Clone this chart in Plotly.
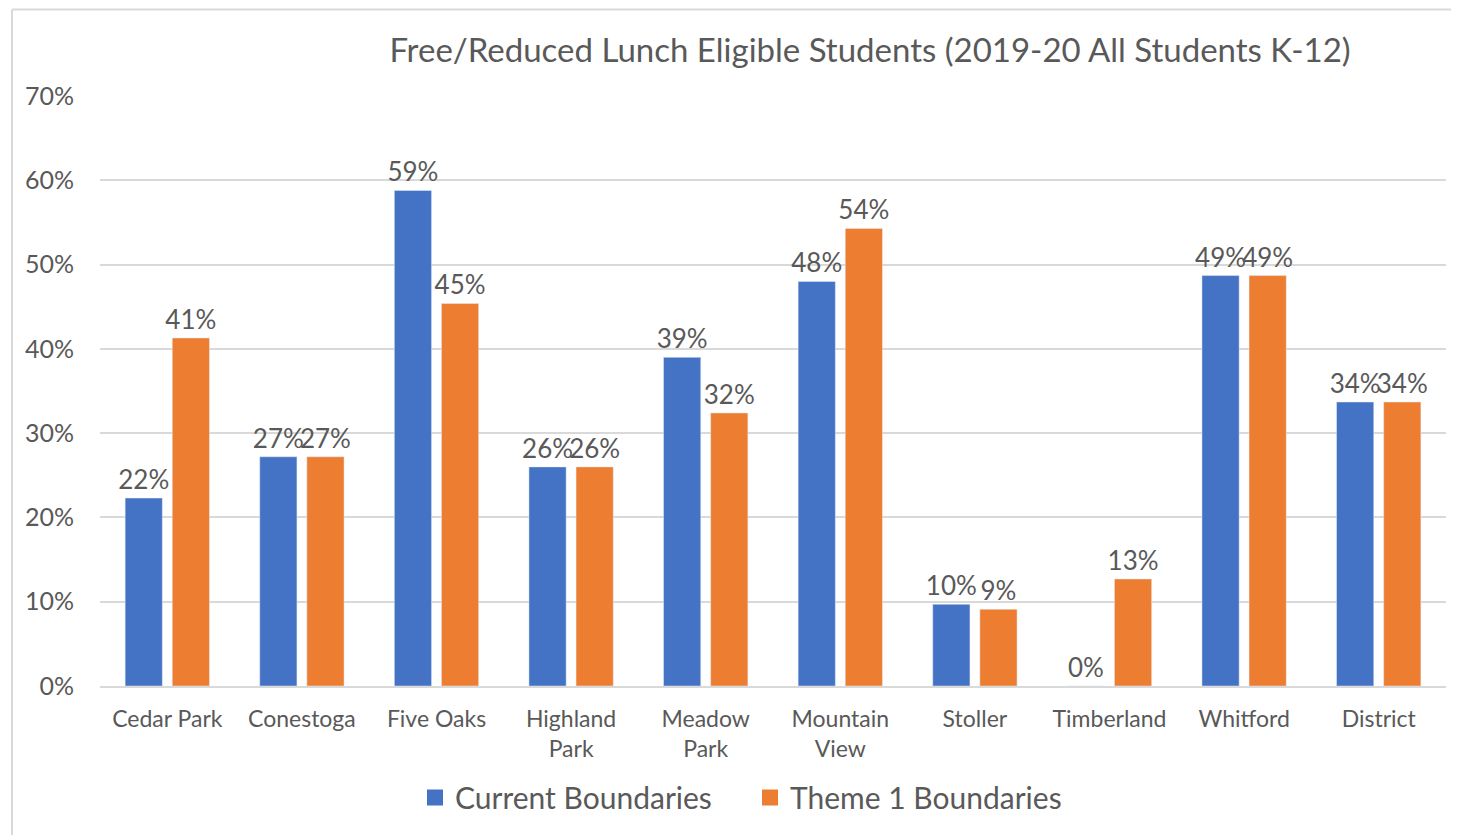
import plotly.graph_objects as go

categories = ["Cedar Park", "Conestoga", "Five Oaks", "Highland<br>Park", "Meadow<br>Park",
              "Mountain<br>View", "Stoller", "Timberland", "Whitford", "District"]
current = [0.223, 0.272, 0.588, 0.260, 0.390, 0.480, 0.097, 0.0, 0.487, 0.337]
theme1 = [0.413, 0.272, 0.454, 0.260, 0.324, 0.543, 0.091, 0.127, 0.487, 0.337]
series_names = ["Current Boundaries", "Theme 1 Boundaries"]
colors = ["#4472C4", "#ED7D31"]

FONT = "Lato, 'Open Sans', sans-serif"
GREY = "#595959"

O = 8  # page body margin offset
W, H = 1459 - O, 835 - O
L, R, T, B = 100 - O, 13, 96 - O, 835 - 689
pw, ph = W - L - R, H - T - B


def px_to_paper_x(px):
    return (px - O - L) / pw


def px_to_paper_y(py):
    return (H - B - (py - O)) / ph


fig = go.Figure()
for name, vals, col in zip(series_names, [current, theme1], colors):
    fig.add_trace(go.Bar(
        x=categories, y=vals, name=name, marker_color=col, showlegend=False,
        text=[f"{v*100:.0f}%" for v in vals], textposition="outside",
        constraintext="none",
        textfont=dict(size=26, color=GREY, family=FONT), cliponaxis=False,
    ))
# legend entries with larger square symbols
for name, col in zip(series_names, colors):
    fig.add_trace(go.Scatter(
        x=[None], y=[None], mode="markers", name=name,
        marker=dict(symbol="square", size=17, color=col),
    ))

shapes = [
    dict(type="line", xref="paper", yref="paper", x0=px_to_paper_x(12), x1=px_to_paper_x(1470),
         y0=px_to_paper_y(9), y1=px_to_paper_y(9), line=dict(color="#D9D9D9", width=2)),
    dict(type="line", xref="paper", yref="paper", x0=px_to_paper_x(12), x1=px_to_paper_x(12),
         y0=px_to_paper_y(9), y1=px_to_paper_y(850), line=dict(color="#D9D9D9", width=2)),
]

fig.update_layout(
    width=W, height=H,
    margin=dict(l=L, r=R, t=T, b=B),
    paper_bgcolor="white", plot_bgcolor="white",
    barmode="group", bargap=0.30, bargroupgap=0.21,
    title=dict(text="Free/Reduced Lunch Eligible Students (2019-20 All Students K-12)",
               x=(870 - O) / W, xanchor="center", y=1 - (50 - O) / H, yanchor="middle",
               font=dict(size=33, color=GREY, family=FONT)),
    font=dict(family=FONT, color=GREY),
    yaxis=dict(range=[0, 0.7001], tickvals=[0, 0.1, 0.2, 0.3, 0.4, 0.5, 0.6, 0.7],
               tickformat=".0%", showgrid=True,
               gridcolor="#D9D9D9", gridwidth=1.5, zeroline=False,
               tickfont=dict(size=25, color=GREY), ticklabelstandoff=25),
    xaxis=dict(showline=True, linecolor="#D9D9D9", linewidth=1.5,
               tickfont=dict(size=23, color=GREY), ticks="", ticklabelstandoff=12),
    legend=dict(orientation="h", x=px_to_paper_x(415), xanchor="left", y=px_to_paper_y(801),
                yanchor="middle", font=dict(size=30, color=GREY),
                entrywidth=290, entrywidthmode="pixels"),
    shapes=shapes,
)
fig.write_html("out.html")
